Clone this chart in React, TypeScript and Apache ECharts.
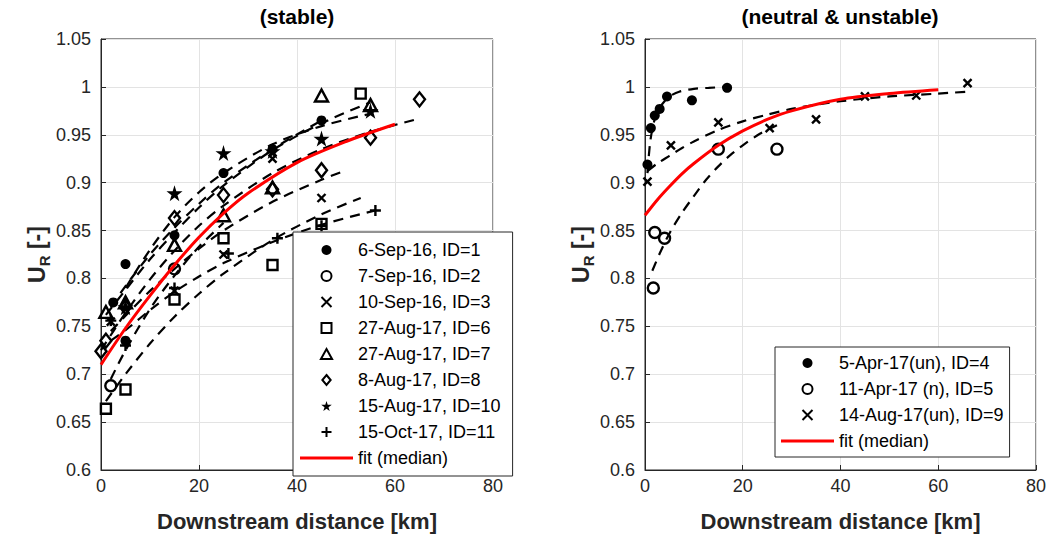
import React, { useEffect, useRef } from "react";
import * as echarts from "echarts";

// ---------- data ----------
const titles = ["(stable)", "(neutral & unstable)"];
const yMin = 0.6;
const yMax = 1.05;

const leftNames = [
  "6-Sep-16, ID=1",
  "7-Sep-16, ID=2",
  "10-Sep-16, ID=3",
  "27-Aug-17, ID=6",
  "27-Aug-17, ID=7",
  "8-Aug-17, ID=8",
  "15-Aug-17, ID=10",
  "15-Oct-17, ID=11",
];
const rightNames = ["5-Apr-17(un), ID=4", "11-Apr-17 (n), ID=5", "14-Aug-17(un), ID=9"];
const fitName = "fit (median)";

// left panel measurements [km, U_R]
const id1 = [[2.5, 0.775], [5, 0.815], [5, 0.735], [15, 0.845], [25, 0.91], [35, 0.935], [45, 0.965]];
const id2 = [[2, 0.688], [15, 0.81]];
const id3 = [[2, 0.755], [15, 0.787], [25, 0.825], [35, 0.925], [45, 0.884]];
const id6 = [[1, 0.664], [5, 0.684], [15, 0.778], [25, 0.842], [35, 0.814], [45, 0.857], [53, 0.993]];
const id7 = [[1, 0.765], [5, 0.775], [15, 0.835], [25, 0.866], [35, 0.895], [45, 0.991], [55, 0.981]];
const id8 = [[0, 0.724], [1, 0.735], [5, 0.77], [15, 0.863], [25, 0.887], [35, 0.893], [45, 0.913], [55, 0.947], [65, 0.987]];
const id10 = [[5, 0.77], [15, 0.889], [25, 0.931], [35, 0.933], [45, 0.946], [55, 0.975]];
const id11 = [[2, 0.756], [5, 0.73], [15, 0.79], [26, 0.826], [36, 0.842], [45, 0.855], [56, 0.871]];

// left panel per-case fits (dashed)
const fit1 = [[2, 0.77], [5, 0.792], [10, 0.825], [15, 0.853], [20, 0.878], [25, 0.9], [35, 0.935], [45, 0.965]];
const fit2 = [[2, 0.695], [5, 0.725], [10, 0.768], [15, 0.803], [20, 0.833], [25, 0.858]];
const fit3 = [[2, 0.745], [5, 0.761], [10, 0.787], [15, 0.81], [20, 0.831], [25, 0.85], [35, 0.88], [45, 0.903], [50, 0.913]];
const fit6 = [[1, 0.672], [5, 0.7], [10, 0.732], [15, 0.76], [20, 0.784], [25, 0.805], [35, 0.84], [45, 0.867], [53, 0.884]];
const fit7 = [[1, 0.762], [5, 0.788], [10, 0.82], [15, 0.848], [20, 0.874], [25, 0.897], [35, 0.934], [45, 0.962], [55, 0.984]];
const fit8 = [[0, 0.725], [5, 0.764], [10, 0.799], [15, 0.829], [20, 0.855], [25, 0.876], [35, 0.91], [45, 0.935], [55, 0.953], [65, 0.967]];
const fit10 = [[5, 0.79], [10, 0.83], [15, 0.864], [20, 0.89], [25, 0.91], [35, 0.94], [45, 0.959], [55, 0.972]];
const fit11 = [[2, 0.735], [5, 0.746], [10, 0.767], [15, 0.786], [20, 0.802], [25, 0.816], [35, 0.838], [45, 0.856], [56, 0.871]];
const medianLeft = [[0, 0.71], [5, 0.748], [10, 0.782], [15, 0.814], [20, 0.843], [25, 0.868], [30, 0.889], [40, 0.921], [50, 0.943], [60, 0.961]];

// right panel measurements
const id4 = [[0.5, 0.919], [1.2, 0.957], [2, 0.97], [3, 0.977], [4.5, 0.99], [9.6, 0.986], [16.8, 0.999]];
const id5 = [[1.7, 0.79], [2, 0.848], [4, 0.842], [15, 0.935], [27, 0.935]];
const id9 = [[0.5, 0.901], [5.3, 0.939], [15, 0.963], [25.5, 0.957], [35, 0.966], [45, 0.99], [55.5, 0.991], [66, 1.004]];
const fit4 = [[0.5, 0.91], [1, 0.94], [1.5, 0.956], [2, 0.966], [3, 0.978], [4, 0.985], [5, 0.99], [7, 0.995], [10, 0.998], [13, 0.999], [17, 1.0]];
const fit5 = [[1.5, 0.808], [3, 0.826], [5, 0.847], [7.5, 0.868], [10, 0.886], [12.5, 0.903], [15, 0.917], [17.5, 0.929], [20, 0.939], [23.5, 0.951], [27, 0.96]];
const fit9 = [[0.5, 0.912], [2.5, 0.92], [5, 0.928], [7.5, 0.936], [10, 0.943], [15, 0.955], [20, 0.964], [25, 0.971], [30, 0.977], [40, 0.985], [50, 0.99], [60, 0.993], [66, 0.995]];
const medianRight = [[0, 0.866], [2.5, 0.882], [5, 0.896], [7.5, 0.909], [10, 0.92], [15, 0.939], [20, 0.954], [25, 0.966], [30, 0.975], [40, 0.987], [50, 0.993], [60, 0.997]];

// ---------- styling ----------
const FONT = '"Liberation Sans", Arial, Helvetica, sans-serif';
const AX = "#262626";

const SYM = {
  dot: "circle",
  circle: "path://M10,5A5,5,0,1,1,0,5A5,5,0,1,1,10,5Z",
  cross: "path://M0,0L10,10M10,0L0,10",
  square: "path://M0,0L10,0L10,10L0,10Z",
  triangle: "path://M5,0L10,9L0,9Z",
  diamond: "path://M5,0L10,6L5,12L0,6Z",
  star: "path://M50,0L61,35L98,35L68,57L79,91L50,70L21,91L32,57L2,35L39,35Z",
  plus: "path://M5,0L5,10M0,5L10,5",
};

function markerSeries(name: string, data: number[][], sym: keyof typeof SYM, idx: number) {
  const filled = sym === "dot" || sym === "star";
  const sizes: Record<string, any> = {
    dot: 10, circle: 11, cross: 8, square: 10, triangle: [13, 12], diamond: [11, 14], star: 16, plus: 11,
  };
  return {
    type: "scatter",
    name,
    xAxisIndex: idx,
    yAxisIndex: idx,
    data,
    symbol: SYM[sym],
    symbolSize: sizes[sym],
    z: 3,
    itemStyle: filled
      ? { color: "#000", borderWidth: 0, opacity: 1 }
      : { color: "rgba(0,0,0,0)", borderColor: "#000", borderWidth: 2.4, opacity: 1 },
    emphasis: { disabled: true },
  };
}

function dashed(name: string, data: number[][], idx: number) {
  return {
    type: "line",
    name,
    xAxisIndex: idx,
    yAxisIndex: idx,
    data,
    smooth: 0.3,
    symbol: "none",
    z: 2,
    lineStyle: { color: "#000", width: 2.2, type: [10, 7] },
    emphasis: { disabled: true },
  };
}

function median(data: number[][], idx: number) {
  return {
    type: "line",
    name: fitName,
    xAxisIndex: idx,
    yAxisIndex: idx,
    data,
    smooth: 0.3,
    symbol: "none",
    z: 4,
    itemStyle: { color: "#ff0000" },
    lineStyle: { color: "#ff0000", width: 3 },
    emphasis: { disabled: true },
  };
}

const fmt = (v: number) => String(+v.toFixed(2));

function xAxisCfg(idx: number) {
  return {
    type: "value",
    gridIndex: idx,
    min: 0,
    max: 80,
    interval: 20,
    name: "Downstream distance [km]",
    nameLocation: "middle",
    nameGap: 40,
    nameTextStyle: { fontFamily: FONT, fontSize: 22, fontWeight: "bold", color: AX },
    axisLine: { show: true, lineStyle: { color: AX, width: 1 } },
    axisTick: { show: true, inside: true, length: 5, lineStyle: { color: AX } },
    axisLabel: { fontFamily: FONT, fontSize: 18, color: AX, margin: 7, formatter: fmt },
    splitLine: { show: true, lineStyle: { color: "#e3e3e3", width: 1 } },
  };
}

function yAxisCfg(idx: number) {
  return {
    type: "value",
    gridIndex: idx,
    min: yMin,
    max: yMax,
    interval: 0.05,
    name: "{a|U}{b|R}{a| [-]}",
    nameLocation: "middle",
    nameRotate: 90,
    nameGap: 49,
    nameTextStyle: {
      rich: {
        a: { fontFamily: FONT, fontSize: 23, fontWeight: "bold", color: AX, lineHeight: 30, verticalAlign: "middle" },
        b: { fontFamily: FONT, fontSize: 15, fontWeight: "bold", color: AX, lineHeight: 15, verticalAlign: "bottom" },
      },
    },
    axisLine: { show: true, lineStyle: { color: AX, width: 1 } },
    axisTick: { show: true, inside: true, length: 5, lineStyle: { color: AX } },
    axisLabel: { fontFamily: FONT, fontSize: 18, color: AX, margin: 10, formatter: fmt },
    splitLine: { show: true, lineStyle: { color: "#e3e3e3", width: 1 } },
  };
}

function legendCfg(names: string[], left: number, top: number, padding: number[]) {
  return {
    data: [
      ...names,
      { name: fitName, icon: "path://M0,0L53,0L53,3L0,3Z", itemStyle: { color: "#ff0000", borderWidth: 0 } },
    ],
    orient: "vertical",
    left,
    top,
    itemWidth: 53,
    itemHeight: 10,
    itemGap: 8,
    padding,
    backgroundColor: "#fff",
    borderColor: AX,
    borderWidth: 1,
    borderRadius: 0,
    selectedMode: false,
    textStyle: { fontFamily: FONT, fontSize: 18, color: "#000" },
    z: 10,
  };
}

export default function App() {
  const ref = useRef<HTMLDivElement>(null);
  useEffect(() => {
    if (!ref.current) return;
    const chart = echarts.init(ref.current, null, { renderer: "svg" });
    const option = {
      animation: false,
      backgroundColor: "#fff",
      title: [
        { text: titles[0], left: 297, top: 6, textAlign: "center", padding: 0,
          textStyle: { fontFamily: FONT, fontSize: 21, fontWeight: "bold", color: "#000" } },
        { text: titles[1], left: 840, top: 6, textAlign: "center", padding: 0,
          textStyle: { fontFamily: FONT, fontSize: 21, fontWeight: "bold", color: "#000" } },
      ],
      grid: [
        { left: 101, top: 39, width: 392, height: 431, show: true, borderColor: AX, borderWidth: 1, backgroundColor: "transparent" },
        { left: 645, top: 39, width: 391, height: 431, show: true, borderColor: AX, borderWidth: 1, backgroundColor: "transparent" },
      ],
      xAxis: [xAxisCfg(0), xAxisCfg(1)],
      yAxis: [yAxisCfg(0), yAxisCfg(1)],
      legend: [
        legendCfg(leftNames, 293, 232, [9, 12, 9, 7]),
        legendCfg(rightNames, 775, 347, [7, 6, 7, 6]),
      ],
      series: [
        dashed("f1", fit1, 0),
        dashed("f2", fit2, 0),
        dashed("f3", fit3, 0),
        dashed("f6", fit6, 0),
        dashed("f7", fit7, 0),
        dashed("f8", fit8, 0),
        dashed("f10", fit10, 0),
        dashed("f11", fit11, 0),
        markerSeries(leftNames[0], id1, "dot", 0),
        markerSeries(leftNames[1], id2, "circle", 0),
        markerSeries(leftNames[2], id3, "cross", 0),
        markerSeries(leftNames[3], id6, "square", 0),
        markerSeries(leftNames[4], id7, "triangle", 0),
        markerSeries(leftNames[5], id8, "diamond", 0),
        markerSeries(leftNames[6], id10, "star", 0),
        markerSeries(leftNames[7], id11, "plus", 0),
        median(medianLeft, 0),
        dashed("f4", fit4, 1),
        dashed("f5", fit5, 1),
        dashed("f9", fit9, 1),
        markerSeries(rightNames[0], id4, "dot", 1),
        markerSeries(rightNames[1], id5, "circle", 1),
        markerSeries(rightNames[2], id9, "cross", 1),
        median(medianRight, 1),
      ],
    };
    chart.setOption(option as any);
    return () => chart.dispose();
  }, []);
  return (
    <div
      ref={ref}
      style={{ position: "fixed", left: 0, top: 0, width: 1049, height: 539, background: "#fff" }}
    />
  );
}
